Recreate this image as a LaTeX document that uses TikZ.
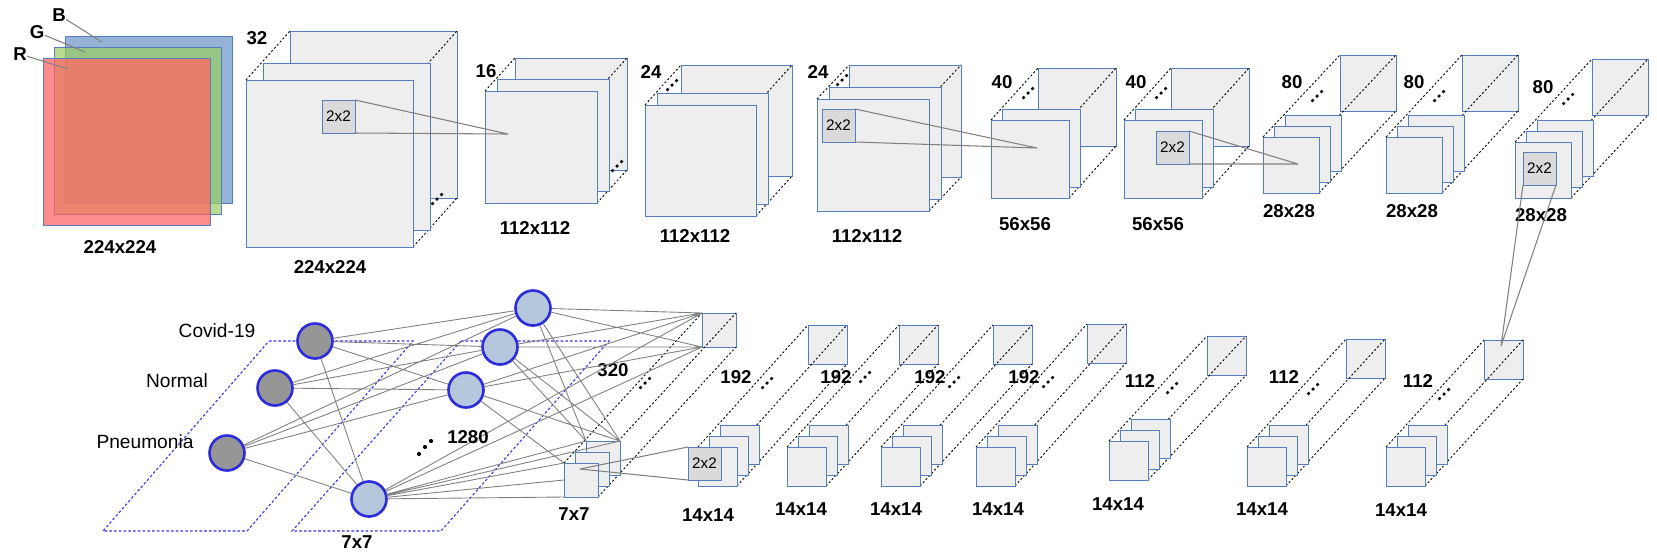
\documentclass[tikz,border=0pt]{standalone}
\usepackage{fontspec}
\setmainfont{Liberation Sans}
\usepackage{xcolor}
\definecolor{sqedge}{RGB}{84,126,192}
\definecolor{sqfill}{RGB}{238,238,238}
\definecolor{kfill}{RGB}{218,218,218}
\definecolor{nodeedge}{RGB}{45,45,220}
\definecolor{outfill}{RGB}{150,150,150}
\definecolor{hidfill}{RGB}{180,199,220}
\definecolor{planeblue}{RGB}{50,50,230}
\definecolor{chB}{RGB}{149,179,215}
\definecolor{chG}{RGB}{154,206,98}
\definecolor{chR}{RGB}{255,101,101}
\pgfdeclarelayer{back}
\pgfdeclarelayer{lines}
\pgfsetlayers{back,lines,main}

% feature map: name, front x, front y, size, layers, back dx, back dy, step
\newcommand{\fmap}[8]{%
  \begin{pgfonlayer}{back}
    \node[sq,minimum size=#4*0.02cm] (#1b) at ({#2+(#6)},{#3+(#7)}) {};
  \end{pgfonlayer}
  \ifnum#5>2
    \node[sq,minimum size=#4*0.02cm] (#1t) at ({#2+2*#8},{#3-2*#8}) {};
  \fi
  \node[sq,minimum size=#4*0.02cm] (#1m) at ({#2+#8},{#3-#8}) {};
  \node[sq,minimum size=#4*0.02cm] (#1f) at (#2,#3) {};
  \begin{pgfonlayer}{lines}
    \draw[dline] (#1f.north west) -- (#1b.north west)
                 (#1f.north east) -- (#1b.north east)
                 (#1f.south east) -- (#1b.south east);
  \end{pgfonlayer}
}
% three dots
\newcommand{\fdots}[2]{\fill (#1-4.5,#2+4.5) circle (1pt) (#1,#2) circle (1pt) (#1+4.5,#2-4.5) circle (1pt);}

\begin{document}
\begin{tikzpicture}[
  x=0.02cm,y=-0.02cm,
  sq/.style={draw=sqedge,fill=sqfill,line width=0.5pt,anchor=north west,inner sep=0pt,outer sep=0pt},
  kern/.style={draw=sqedge,fill=kfill,line width=0.5pt,anchor=north west,inner sep=0pt,outer sep=0pt,minimum size=0.66cm,font=\fontsize{8.7}{10}\selectfont},
  chan/.style={draw=sqedge,line width=0.5pt,anchor=north west,inner sep=0pt,outer sep=0pt,minimum size=3.34cm},
  dline/.style={black,line width=0.5pt,dash pattern=on 1.2pt off 1.2pt},
  gline/.style={gray,line width=0.6pt},
  nnlink/.style={gray,line width=0.5pt},
  fplane/.style={planeblue,line width=0.6pt,dash pattern=on 1.5pt off 1.2pt},
  lab/.style={font=\bfseries\fontsize{10.6}{12}\selectfont,inner sep=0pt},
  cls/.style={font=\fontsize{10.9}{13}\selectfont,inner sep=0pt},
  outn/.style={circle,draw=nodeedge,fill=outfill,line width=1.5pt,minimum size=0.7cm,inner sep=0pt},
  hidn/.style={outn,fill=hidfill}
]
  \useasboundingbox (0,0) rectangle (1657,556);

  % input image
  \node[chan,fill=chB] (chb) at (65,36) {};
  \node[chan,fill=chG,fill opacity=0.7] (chg) at (54,47) {};
  \node[chan,fill=chR,fill opacity=0.75] (chr) at (43,58) {};
  \node[lab] (lb) at (59,15) {B};
  \node[lab] (lg) at (37,32) {G};
  \node[lab] (lr) at (20,54) {R};
  \coordinate (pb) at (102,42);
  \coordinate (pg) at (85,52);
  \coordinate (pr) at (68,69);
  \draw[gline] (lb) -- (pb);
  \draw[gline] (lg) -- (pg);
  \draw[gline] (lr) -- (pr);
  \node[lab] (in) at (120,247) {224x224};

  % top row
  \fmap{c1}{246}{80}{167}{2}{44}{-49}{17}
  \fmap{c2}{485}{91}{112}{2}{30}{-33}{12}
  \fmap{c3}{645}{105}{111}{2}{36}{-40}{12}
  \fmap{c4}{817}{99}{112}{2}{32}{-34}{12}
  \fmap{c5}{991}{120}{78}{2}{47}{-52}{11}
  \fmap{c6}{1124}{120}{78}{2}{47}{-52}{11}
  \fmap{c7}{1263}{137}{56}{3}{77}{-82}{11}
  \fmap{c8}{1386}{137}{56}{3}{76}{-82}{11}
  \fmap{c9}{1515}{142}{56}{3}{77}{-83}{11}

  \fdots{437}{199}
  \fdots{617}{166}
  \fdots{672}{85}
  \fdots{842}{80}
  \fdots{1028}{93}
  \fdots{1161}{93}
  \fdots{1317}{96}
  \fdots{1439}{96}
  \fdots{1568}{99}

  \node[lab] (n1) at (257,38) {32};
  \node[lab] (n2) at (486,71) {16};
  \node[lab] (n3) at (651,72) {24};
  \node[lab] (n4) at (818,72) {24};
  \node[lab] (n5) at (1002,82) {40};
  \node[lab] (n6) at (1136,82) {40};
  \node[lab] (n7) at (1292,82) {80};
  \node[lab] (n8) at (1414,82) {80};
  \node[lab] (n9) at (1543,87) {80};

  \node[lab] (s1) at (330,267) {224x224};
  \node[lab] (s2) at (535,228) {112x112};
  \node[lab] (s3) at (695,236) {112x112};
  \node[lab] (s4) at (867,236) {112x112};
  \node[lab] (s5) at (1025,224) {56x56};
  \node[lab] (s6) at (1158,224) {56x56};
  \node[lab] (s7) at (1289,211) {28x28};
  \node[lab] (s8) at (1412,211) {28x28};
  \node[lab] (s9) at (1541,215) {28x28};

  % bottom row
  \fmap{d1}{564}{463}{34}{3}{138}{-150}{11}
  \fmap{d2}{698}{447}{39}{3}{110}{-122}{11}
  \fmap{d3}{787}{447}{39}{3}{112}{-122}{11}
  \fmap{d4}{881}{447}{39}{3}{112}{-122}{11}
  \fmap{d5}{976}{447}{39}{3}{111}{-123}{11}
  \fmap{d6}{1109}{441}{39}{3}{98}{-105}{11}
  \fmap{d7}{1247}{447}{39}{3}{99}{-108}{11}
  \fmap{d8}{1386}{447}{39}{3}{98}{-107}{11}

  \fdots{645}{383}
  \fdots{767}{383}
  \fdots{865}{377}
  \fdots{954}{382}
  \fdots{1048}{382}
  \fdots{1172}{388}
  \fdots{1313}{389}
  \fdots{1444}{394}

  \node[lab] (m1) at (613,370) {320};
  \node[lab] (m2) at (736,377) {192};
  \node[lab] (m3) at (836,377) {192};
  \node[lab] (m4) at (930,377) {192};
  \node[lab] (m5) at (1024,377) {192};
  \node[lab] (m6) at (1140,381) {112};
  \node[lab] (m7) at (1284,377) {112};
  \node[lab] (m8) at (1418,381) {112};

  \node[lab] (t1) at (574,514) {7x7};
  \node[lab] (t2) at (708,515) {14x14};
  \node[lab] (t3) at (801,509) {14x14};
  \node[lab] (t4) at (896,509) {14x14};
  \node[lab] (t5) at (998,509) {14x14};
  \node[lab] (t6) at (1118,504) {14x14};
  \node[lab] (t7) at (1262,509) {14x14};
  \node[lab] (t8) at (1401,510) {14x14};

  % 2x2 kernels
  \node[kern] (k1) at (322,100) {2x2};
  \node[kern] (k2) at (822,109) {2x2};
  \node[kern] (k3) at (1156,131) {2x2};
  \node[kern] (k4) at (1523,152) {2x2};
  \node[kern] (k5) at (688,447) {2x2};
  \coordinate (p1) at (508,134);
  \coordinate (p2) at (1037,148);
  \coordinate (p3) at (1298,164);
  \coordinate (p4) at (1501,346);
  \coordinate (p5) at (580,469);
  \draw[gline] (k1.north east) -- (p1) (k1.south east) -- (p1);
  \draw[gline] (k2.north east) -- (p2) (k2.south east) -- (p2);
  \draw[gline] (k3.north east) -- (p3) (k3.south east) -- (p3);
  \draw[gline] (k4.south west) -- (p4) (k4.south east) -- (p4);
  \draw[gline] (p5) -- (k5.north west) (p5) -- (k5.south west);

  % classifier
  \draw[fplane] (269,341) -- (413,341) -- (247,531) -- (103,531) -- cycle;
  \draw[fplane] (461,341) -- (609,341) -- (441,531) -- (292,531) -- cycle;

  \node[outn] (o1) at (315,341) {};
  \node[outn] (o2) at (275,388) {};
  \node[outn] (o3) at (227,453) {};
  \node[hidn] (h1) at (533,308) {};
  \node[hidn] (h2) at (500,347) {};
  \node[hidn] (h3) at (466,390) {};
  \node[hidn] (h4) at (369,499) {};

  \draw[nnlink] (o1) -- (h1) (o1) -- (h2) (o1) -- (h3) (o1) -- (h4)
                (o2) -- (h1) (o2) -- (h2) (o2) -- (h3) (o2) -- (h4)
                (o3) -- (h1) (o3) -- (h2) (o3) -- (h3) (o3) -- (h4);
  \draw[nnlink] (h1) -- (d1b.north west) (h1) -- (d1b.south west) (h1) -- (d1t.north west) (h1) -- (d1t.north east)
                (h2) -- (d1b.north west) (h2) -- (d1b.south west) (h2) -- (d1t.north west) (h2) -- (d1t.north east)
                (h3) -- (d1b.north west) (h3) -- (d1b.south west) (h3) -- (d1t.north east) (h3) -- (d1f.north west)
                (h4) -- (d1b.north west) (h4) -- (d1b.south west) (h4) -- (d1t.north west) (h4) -- (d1t.north east)
                (h4) -- (d1f.north west) (h4) -- (d1f.west) (h4) -- (d1f.south west);

  \node[cls] (lc) at (217,331) {Covid-19};
  \node[cls] (ln) at (177,381) {Normal};
  \node[cls] (lp) at (145,442) {Pneumonia};
  \node[lab] (u1) at (468,437) {1280};
  \node[lab] (u2) at (357,542) {7x7};
  \fill (419,454) circle (1.2pt) (425,447) circle (1.2pt) (431,441) circle (1.2pt);
\end{tikzpicture}
\end{document}
